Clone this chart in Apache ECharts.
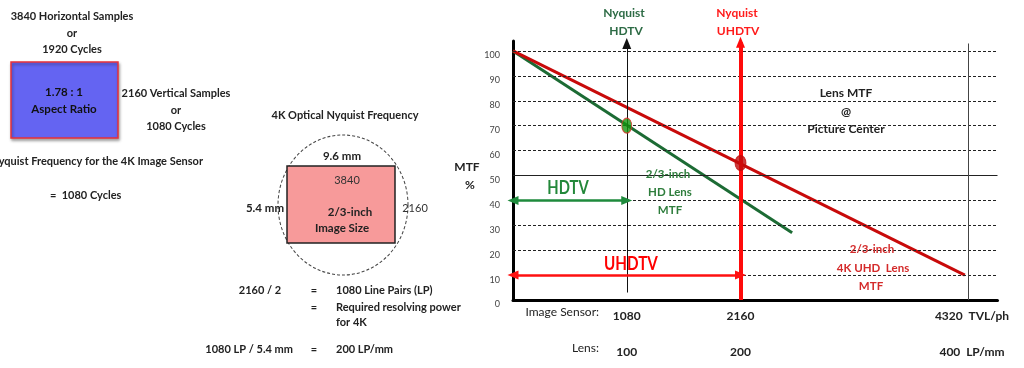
<!DOCTYPE html>
<html><head><meta charset="utf-8">
<script src="https://cdn.jsdelivr.net/npm/echarts@6/dist/echarts.min.js"></script>
<style>html,body{margin:0;padding:0;background:#fff}#c{width:1024px;height:368px}</style>
</head><body><div id="c"></div>
<script>
// ---- data ----
const yTicks = [0,10,20,30,40,50,60,70,80,90,100];
const gridLevels = [10,20,30,40,50,60,70,80,90,100];
const solidLevel = 50;
const sensorTicks = [1080,2160,4320];
const lensTicks = [100,200,400];
const sensorUnit = 'TVL/ph';
const lensUnit = 'LP/mm';
const hdLens = [[0,100],[2650,27]];
const uhdLens = [[0,100],[4290,10]];
const hdPoint = [[1080,70]];
const uhdPoint = [[2160,55]];
const hdNyquistLine = [[1080,3],[1080,103]];
const uhdNyquistLine = [[2160,0],[2160,103.5]];
const tvlLine = [[4320,0],[4320,103]];
const hdRange = [[0,40],[1080,40]];
const uhdRange = [[0,10],[2160,10]];
const xMax = 4600, yMax = 104;
const lensMax = xMax*400/4320;

const F = 'Lato, "DejaVu Sans", sans-serif';
const chart = echarts.init(document.getElementById('c'));

function T(text, x, y, o){
  o = o||{};
  const el = {type:'text', x:x, y:y, z:100, silent:true, style:{
    text:text, fill:o.c||'#222', font:(o.w||'bold')+' '+(o.s||11)+'px '+F,
    align:o.a||'center', verticalAlign:'middle', textAlign:o.a||'center', textVerticalAlign:'middle'}};
  if (o.sx) el.scaleX = o.sx;
  return el;
}
const GREEN_T = '#2d6b45', RED_T = '#ff1a1a';
const graphics = [
  // left panel
  T('3840 Horizontal Samples',72,16),
  T('or',72,33),
  T('1920 Cycles',72,49),
  {type:'rect', shape:{x:11,y:62,width:107,height:76}, style:{fill:'#6464f2',stroke:'#e8303a',lineWidth:1.5,shadowBlur:3,shadowOffsetY:2,shadowOffsetX:1,shadowColor:'rgba(0,0,0,0.35)'}},
  T('1.78 : 1',64,92,{c:'#111',s:11.5}),
  T('Aspect Ratio',64,109,{c:'#111',s:11.5}),
  T('2160 Vertical Samples',176,93),
  T('or',176,110),
  T('1080 Cycles',176,126),
  T('Nyquist Frequency for the 4K Image Sensor',203,161,{a:'right'}),
  T('=  1080 Cycles',50,195,{a:'left'}),
  // middle panel
  T('4K Optical Nyquist Frequency',345,115),
  {type:'circle', x:343, y:205, scaleY:70/65, shape:{cx:0,cy:0,r:65}, style:{fill:'none',stroke:'#444',lineWidth:1,lineDash:[3,2]}},
  {type:'rect', shape:{x:287,y:166,width:108,height:77}, style:{fill:'#f79a9a',stroke:'#222',lineWidth:1.5}},
  T('9.6 mm',342,156,{s:11.5}),
  T('3840',347,180,{w:'normal',c:'#333'}),
  T('5.4 mm',265,208,{s:11.5}),
  T('2160',415,208,{w:'normal',c:'#333'}),
  T('2/3-inch',350,212,{s:11.5}),
  T('Image Size',342,228,{s:11.5}),
  T('2160 / 2',260,290),
  T('=',314,290),
  T('1080 Line Pairs (LP)',336,290,{a:'left'}),
  T('=',314,307),
  T('Required resolving power',336,307,{a:'left'}),
  T('for 4K',336,322,{a:'left'}),
  T('1080 LP / 5.4 mm',293,349,{a:'right'}),
  T('=',314,349),
  T('200 LP/mm',336,349,{a:'left'}),
  // chart annotations
  T('MTF',467,167,{s:12}),
  T('%',470,185,{s:12}),
  T('Nyquist',624,13,{c:GREEN_T,s:12}),
  T('HDTV',626,31,{c:GREEN_T,s:12}),
  T('Nyquist',737,13,{c:RED_T,s:12}),
  T('UHDTV',738,31,{c:RED_T,s:12}),
  T('Lens MTF',846,93,{s:12}),
  T('@',846,112,{s:12}),
  T('Picture Center',846,129,{s:12}),
  T('HDTV',568,188,{c:'#23883a',s:18,sx:0.82}),
  T('UHDTV',631,264,{c:'#ff0000',s:19,sx:0.8}),
  T('2/3-inch',668,174,{c:'#2e7d3c',s:11.5}),
  T('HD Lens',670,192,{c:'#2e7d3c',s:11.5}),
  T('MTF',670,210,{c:'#2e7d3c',s:11.5}),
  T('2/3-inch',872,249,{c:'#d42a2a',s:11.5}),
  T('4K UHD  Lens',873,268,{c:'#d42a2a',s:11.5}),
  T('MTF',871,286,{c:'#d42a2a',s:11.5}),
  T('Image Sensor:',599,312,{a:'right',w:'normal',s:12}),
  T('Lens:',599,348,{a:'right',w:'normal',s:12})
];

function segLine(pts, color, width, syms, z){
  return {type:'scatter', data:[], z:z||3, silent:true,
    markLine:{silent:true, animation:false, symbol:syms||['none','none'], symbolSize:[9,11], precision:4,
      label:{show:false}, lineStyle:{color:color, width:width, type:'solid'},
      emphasis:{disabled:true},
      data:[[{coord:pts[0]},{coord:pts[1]}]]}};
}

const gridSeries = {type:'scatter', data:[], z:1, silent:true,
  markLine:{silent:true, animation:false, symbol:['none','none'], label:{show:false},
    data: gridLevels.map(v=>({yAxis:v, lineStyle:{color:'#222', width:1, type: v===solidLevel?'solid':[3,2]}}))}};

function xlab(unit, last){
  return function(v){
    return v===last ? '{p|}{n|'+v+'}{u|  '+unit+'}' : '{n|'+v+'}';
  };
}
const rich = {
  n:{fontWeight:'bold', fontSize:12, fontFamily:F, color:'#222'},
  u:{fontWeight:'bold', fontSize:12, fontFamily:F, color:'#222'},
  p:{width:8}
};

chart.setOption({
  animation:false,
  backgroundColor:'#fff',
  grid:{left:513, right:26.5, top:41, bottom:68},
  xAxis:[
    {type:'value', min:0, max:xMax, position:'bottom',
     axisLine:{show:true, onZero:false, lineStyle:{color:'#000', width:3}},
     axisTick:{show:false}, splitLine:{show:false},
     axisLabel:{customValues:sensorTicks, margin:10, formatter:xlab(sensorUnit,4320), rich:rich}},
    {type:'value', min:0, max:lensMax, position:'bottom', offset:36,
     axisLine:{show:false}, axisTick:{show:false}, splitLine:{show:false},
     axisLabel:{customValues:lensTicks, margin:10, formatter:xlab(lensUnit,400), rich:rich}}
  ],
  yAxis:{type:'value', min:0, max:yMax, interval:10,
    axisLine:{show:true, lineStyle:{color:'#000', width:3}},
    axisTick:{show:false}, splitLine:{show:false},
    axisLabel:{margin:13, fontSize:9, color:'#444', fontFamily:F, verticalAlign:'top',
      formatter:v=> (yTicks.indexOf(v)>=0 ? String(v) : '')}},
  graphic:graphics,
  series:[
    gridSeries,
    segLine(tvlLine,'#444',1,null,2),
    segLine(hdNyquistLine,'#111',1,['none','triangle'],3),
    {type:'line', data:hdLens, symbol:'none', z:4, silent:true, lineStyle:{color:'#1c6b34', width:3}},
    {type:'line', data:uhdLens, symbol:'none', z:4, silent:true, lineStyle:{color:'#c80a0a', width:3}},
    segLine(uhdNyquistLine,'#ff0a0a',4,['none','triangle'],5),
    segLine(hdRange,'#1e8a3c',2.5,['triangle','triangle'],5),
    segLine(uhdRange,'#ff1010',2.5,['triangle','triangle'],5),
    {type:'scatter', data:hdPoint, symbol:'circle', symbolSize:[10,15], z:6, silent:true,
      itemStyle:{color:'#14960f', borderColor:'#e0302a', borderWidth:1}},
    {type:'scatter', data:uhdPoint, symbol:'circle', symbolSize:[11,15], z:6, silent:true,
      itemStyle:{color:'#c00a0a', borderColor:'#c00a0a', borderWidth:1}}
  ]
});
</script></body></html>
